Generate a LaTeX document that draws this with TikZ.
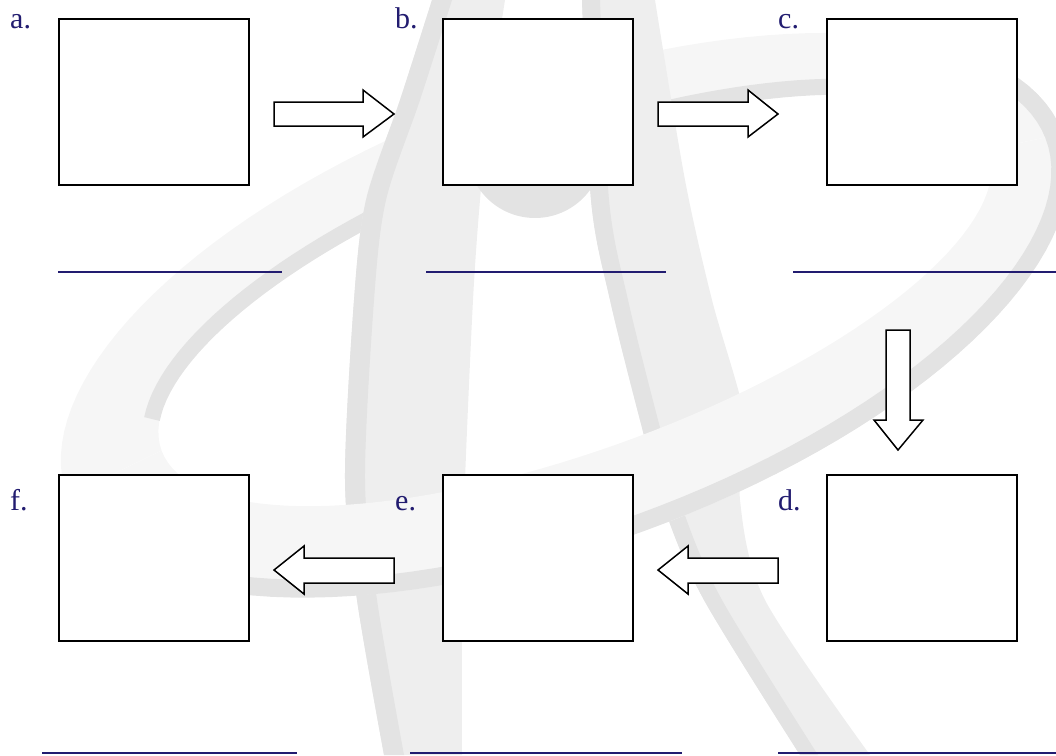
\documentclass[tikz,border=0pt]{standalone}
\usepackage{fontspec}
\setmainfont{Liberation Serif}
\usetikzlibrary{calc}
\definecolor{navy}{HTML}{221C70}
\definecolor{wmdark}{HTML}{E3E3E3}
\definecolor{wmleg}{HTML}{EEEEEE}
\definecolor{wmring}{HTML}{F6F6F6}
\begin{document}
\begin{tikzpicture}[x=1pt,y=-1pt,
  panel/.style={draw=black,line width=2pt,fill=white,inner sep=0pt,minimum width=190pt,minimum height=166pt},
  blockarrow/.style={draw=black,line width=1.5pt,fill=white,line join=miter},
  lbl/.style={anchor=base west,inner sep=0pt,text=navy,font=\fontsize{30}{34}\selectfont},
  blank/.style={draw=navy,line width=2.2pt}]
\useasboundingbox (0,0) rectangle (1056,755);
% ---- watermark ----
\begin{scope}
\clip (0,0) rectangle (1056,755);
% back half of the ring
\fill[wmring] plot[domain=180:360,samples=70,variable=\t] ({565+530*cos(\t)*cos(20)+230*sin(\t)*sin(20)},{315-530*cos(\t)*sin(20)+230*sin(\t)*cos(20)})
  -- plot[domain=360:180,samples=70,variable=\t] ({575+440*cos(\t)*cos(20)+150*sin(\t)*sin(20)},{300-440*cos(\t)*sin(20)+150*sin(\t)*cos(20)}) -- cycle;
\draw[wmdark,line width=16pt] plot[domain=192:330,samples=60,variable=\t] ({575+448*cos(\t)*cos(20)+158*sin(\t)*sin(20)},{300-448*cos(\t)*sin(20)+158*sin(\t)*cos(20)});
% left leg
\fill[wmleg] plot[smooth] coordinates {(432,0)(400,100)(366,200)(354,300)(345,480)(357,600)(384,755)}
  -- plot[smooth] coordinates {(462,755)(462,600)(465,480)(473,300)(480,200)(490,100)(505,0)} -- cycle;
\fill[wmdark] plot[smooth] coordinates {(432,0)(400,100)(366,200)(354,300)(345,480)(357,600)(384,755)}
  -- plot[smooth] coordinates {(404,755)(377,600)(365,480)(374,300)(386,200)(420,100)(452,0)} -- cycle;
% right leg
\fill[wmleg] plot[smooth] coordinates {(582,0)(591,200)(610,300)(640,420)(665,510)(704,600)(800,755)}
  -- plot[smooth] coordinates {(870,755)(765,600)(740,500)(745,420)(712,300)(685,180)(655,0)} -- cycle;
\fill[wmdark] plot[smooth] coordinates {(582,0)(591,200)(610,300)(640,420)(665,510)(704,600)(800,755)}
  -- plot[smooth] coordinates {(818,755)(722,600)(683,510)(658,420)(628,300)(609,200)(600,0)} -- cycle;
% crossbar bowl
\fill[wmdark] (535,150) circle[radius=68];
% front half of the ring
\fill[wmring] plot[domain=0:180,samples=70,variable=\t] ({565+530*cos(\t)*cos(20)+230*sin(\t)*sin(20)},{315-530*cos(\t)*sin(20)+230*sin(\t)*cos(20)})
  -- plot[domain=180:0,samples=70,variable=\t] ({575+440*cos(\t)*cos(20)+150*sin(\t)*sin(20)},{300-440*cos(\t)*sin(20)+150*sin(\t)*cos(20)}) -- cycle;
\draw[wmdark,line width=18pt] plot[domain=-35:175,samples=80,variable=\t] ({565+521*cos(\t)*cos(20)+221*sin(\t)*sin(20)},{315-521*cos(\t)*sin(20)+221*sin(\t)*cos(20)});
\end{scope}
% ---- panels ----
\node[panel] (a) at (154,102) {};
\node[panel] (b) at (538,102) {};
\node[panel] (c) at (922,102) {};
\node[panel] (d) at (922,558) {};
\node[panel] (e) at (538,558) {};
\node[panel] (f) at (154,558) {};
% ---- labels ----
\node[lbl] (la) at (10,28) {a.};
\node[lbl] (lb) at (395,28) {b.};
\node[lbl] (lc) at (778,28) {c.};
\node[lbl] (ld) at (778,510) {d.};
\node[lbl] (le) at (395,510) {e.};
\node[lbl] (lf) at (10,510) {f.};
% ---- blanks ----
\draw[blank] (58,272) -- (282,272);
\draw[blank] (426,272) -- (666,272);
\draw[blank] (793,272) -- (1056,272);
\draw[blank] (42,753) -- (297,753);
\draw[blank] (410,753) -- (682,753);
\draw[blank] (778,753) -- (1056,753);
% ---- block arrows ----
\draw[blockarrow] ($(a.east)+(24,0)$) -- ++(89,0) -- ++(0,-12) -- ++(31,24) -- ++(-31,23) -- ++(0,-11) -- ++(-89,0) -- cycle;
\draw[blockarrow] ($(b.east)+(24,0)$) -- ++(90,0) -- ++(0,-12) -- ++(30,24) -- ++(-30,23) -- ++(0,-11) -- ++(-90,0) -- cycle;
\draw[blockarrow] ($(c.south)+(-36,144)$) -- ++(24,0) -- ++(0,90) -- ++(13,0) -- ++(-25,30) -- ++(-24,-30) -- ++(12,0) -- cycle;
\draw[blockarrow] ($(d.west)+(-48,0)$) -- ++(-90,0) -- ++(0,-12) -- ++(-30,24) -- ++(30,24) -- ++(0,-11) -- ++(90,0) -- cycle;
\draw[blockarrow] ($(e.west)+(-48,0)$) -- ++(-90,0) -- ++(0,-12) -- ++(-30,24) -- ++(30,24) -- ++(0,-11) -- ++(90,0) -- cycle;
\end{tikzpicture}
\end{document}
